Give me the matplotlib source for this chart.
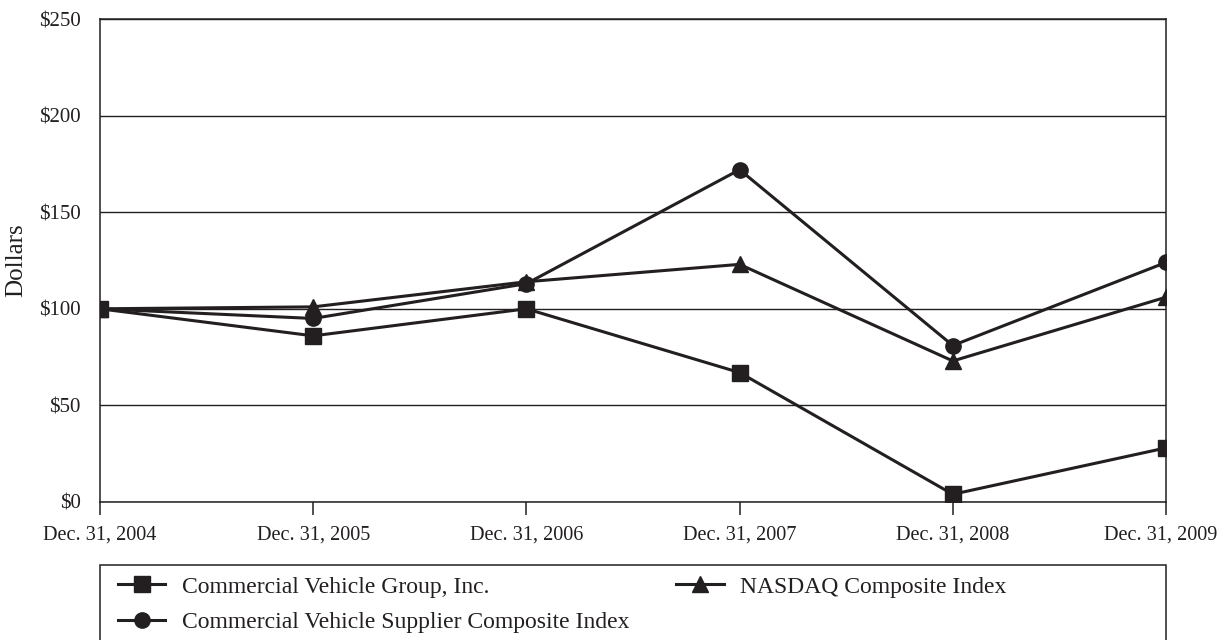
import matplotlib
matplotlib.use('Agg')
import matplotlib.pyplot as plt
from matplotlib.patches import Rectangle
from matplotlib.transforms import ScaledTranslation

plt.rcParams['font.family'] = ['Liberation Serif', 'DejaVu Serif']

# dados
anos = ['Dec. 31, 2004', 'Dec. 31, 2005', 'Dec. 31, 2006',
        'Dec. 31, 2007', 'Dec. 31, 2008', 'Dec. 31, 2009']
cvg = [100, 86, 100, 67, 4, 28]
fornecedores = [100, 95, 113, 172, 81, 124]
nasdaq = [100, 101, 114, 123, 73, 106]
yticks = [0, 50, 100, 150, 200, 250]

cor = '#231f20'

fig = plt.figure(figsize=(12.22, 6.40), dpi=100)
ax = fig.add_axes([100 / 1222, 138 / 640, 1066 / 1222, 483 / 640])

x = list(range(len(anos)))
l1, = ax.plot(x, cvg, color=cor, lw=2.2, marker='s', ms=11, zorder=5,
              label='Commercial Vehicle Group, Inc.')
l2, = ax.plot(x, fornecedores, color=cor, lw=2.2, marker='o', ms=11, zorder=4,
              label='Commercial Vehicle Supplier Composite Index')
l3, = ax.plot(x, nasdaq, color=cor, lw=2.2, marker='^', ms=11, zorder=4,
              label='NASDAQ Composite Index')

ax.set_xlim(0, len(anos) - 1)
ax.set_ylim(0, 250)
ax.set_xticks(x)
ax.set_xticklabels(anos, fontsize=14.6)
ax.set_yticks(yticks)
ax.set_yticklabels(['$' + str(v) for v in yticks], fontsize=15)
ax.tick_params(axis='x', length=9, width=1.1, color=cor, pad=8, labelcolor=cor)
ax.tick_params(axis='y', length=0, pad=14, labelcolor=cor)
ax.grid(axis='y', color=cor, lw=1.0)
ax.set_axisbelow(True)
for s in ax.spines.values():
    s.set_color(cor)
    s.set_linewidth(1.1)
ax.set_ylabel('Dollars', fontsize=18, color=cor, labelpad=8)

# o último rótulo é puxado um pouco para a esquerda para caber
ultimo = ax.get_xticklabels()[-1]
ultimo.set_transform(ultimo.get_transform() + ScaledTranslation(-0.05, 0, fig.dpi_scale_trans))

# caixa da legenda (cortada embaixo)
caixa = Rectangle((100 / 1222, -0.05), 1066 / 1222, 0.05 + 75 / 640,
                  transform=fig.transFigure, fill=False, edgecolor=cor, lw=1.1)
fig.patches.append(caixa)

fig.legend(handles=[l1, l2, l3], ncol=2, loc='upper left',
           bbox_to_anchor=(118 / 1222, 1 - 576 / 640), frameon=False,
           fontsize=17, handlelength=2.0, handletextpad=0.7,
           labelspacing=0.6, columnspacing=2.0, borderpad=0,
           borderaxespad=0, labelcolor=cor)

fig.savefig('out.png', dpi=100)
